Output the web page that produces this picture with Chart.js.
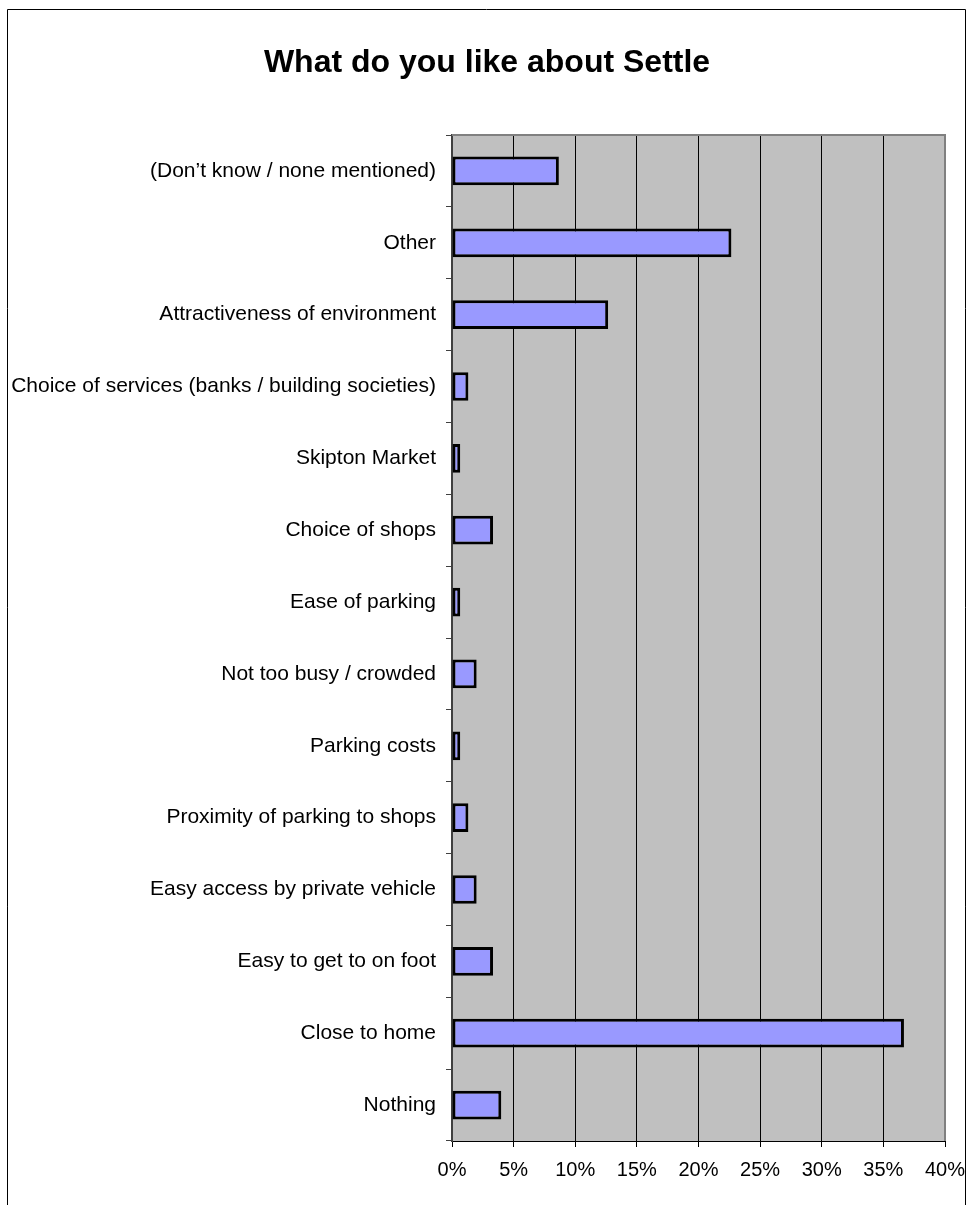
<!DOCTYPE html>
<html>
<head>
<meta charset="utf-8">
<script src="https://cdn.jsdelivr.net/npm/chart.js@4"></script>
<style>
  html, body { margin: 0; padding: 0; background: #fff; }
  #wrap { position: relative; width: 967px; height: 1205px; }
  #title {
    position: absolute; left: 0; top: 42px; width: 974px;
    text-align: center; margin: 0;
    font: bold 32px 'Liberation Sans', Arial, sans-serif;
    line-height: 38px; color: #000;
  }
  canvas { position: absolute; left: 0; top: 0; }
</style>
</head>
<body>
<div id="wrap">
  <canvas id="c" width="967" height="1205"></canvas>
  <h1 id="title"></h1>
</div>
<script>
const chartTitle = 'What do you like about Settle';
const categories = [
  '(Don\u2019t know / none mentioned)',
  'Other',
  'Attractiveness of environment',
  'Choice of services (banks / building societies)',
  'Skipton Market',
  'Choice of shops',
  'Ease of parking',
  'Not too busy / crowded',
  'Parking costs',
  'Proximity of parking to shops',
  'Easy access by private vehicle',
  'Easy to get to on foot',
  'Close to home',
  'Nothing'
];
const values = [8.67, 22.67, 12.67, 1.33, 0.67, 3.33, 0.67, 2.0, 0.67, 1.33, 2.0, 3.33, 36.67, 4.0];
const xTicks = [0, 5, 10, 15, 20, 25, 30, 35, 40];

document.getElementById('title').textContent = chartTitle;

const FONT = "'Liberation Sans', Arial, sans-serif";

const framePlugin = {
  id: 'frame',
  beforeDraw(chart) {
    const { ctx, chartArea: a } = chart;
    ctx.save();
    ctx.fillStyle = '#c0c0c0';
    ctx.fillRect(a.left, a.top, a.right - a.left, a.bottom - a.top);
    ctx.restore();
  },
  afterDraw(chart) {
    const { ctx, chartArea: a } = chart;
    ctx.save();
    ctx.strokeStyle = '#808080';
    ctx.lineWidth = 2;
    ctx.beginPath();
    ctx.moveTo(a.left, a.top);
    ctx.lineTo(a.right, a.top);
    ctx.lineTo(a.right, a.bottom);
    ctx.stroke();
    ctx.strokeStyle = '#000';
    ctx.lineWidth = 1;
    ctx.beginPath();
    ctx.moveTo(7.5, 1205);
    ctx.lineTo(7.5, 9.5);
    ctx.lineTo(965.5, 9.5);
    ctx.lineTo(965.5, 1205);
    ctx.stroke();
    ctx.restore();
  }
};

new Chart(document.getElementById('c'), {
  type: 'bar',
  data: {
    labels: categories,
    datasets: [{
      data: values,
      backgroundColor: '#9999ff',
      borderColor: '#000000',
      borderWidth: 3,
      borderSkipped: false,
      categoryPercentage: 1.0,
      barPercentage: 0.4
    }]
  },
  options: {
    indexAxis: 'y',
    responsive: false,
    animation: false,
    devicePixelRatio: 1,
    layout: { padding: { top: 135, left: 0, right: 22, bottom: 12 } },
    plugins: {
      legend: { display: false },
      tooltip: { enabled: false },
      title: { display: false }
    },
    scales: {
      x: {
        type: 'linear',
        min: 0,
        max: 40,
        afterBuildTicks(scale) { scale.ticks = xTicks.map(v => ({ value: v })); },
        afterFit(scale) { scale.paddingLeft = 0; scale.paddingRight = 0; },
        border: { display: true, color: '#000', width: 1 },
        grid: {
          color: (c) => (c.index === xTicks.length - 1 ? '#808080' : '#000'),
          lineWidth: 1,
          drawTicks: true,
          tickLength: 6,
          tickColor: '#000'
        },
        ticks: {
          color: '#000',
          padding: 11,
          font: { family: FONT, size: 20 },
          maxRotation: 0,
          callback: (v) => v + '%'
        }
      },
      y: {
        type: 'category',
        offset: true,
        afterFit(scale) { scale.width = 452; scale.paddingTop = 0; scale.paddingBottom = 0; },
        border: { display: true, color: '#404040', width: 2 },
        grid: {
          offset: true,
          drawOnChartArea: false,
          drawTicks: true,
          tickLength: 6,
          color: '#404040',
          lineWidth: 1
        },
        ticks: {
          color: '#000',
          padding: 10,
          autoSkip: false,
          font: { family: FONT, size: 21 }
        }
      }
    }
  },
  plugins: [framePlugin]
});
</script>
</body>
</html>
